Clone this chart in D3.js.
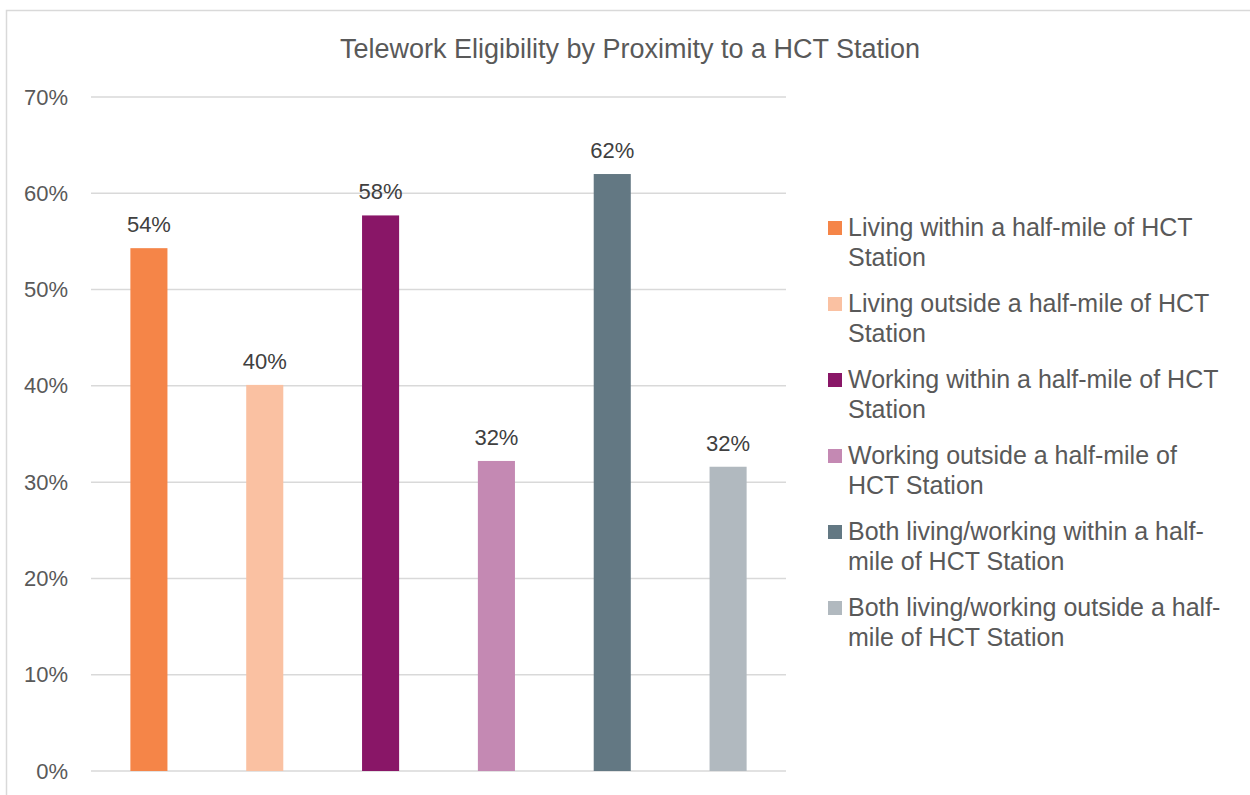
<!DOCTYPE html>
<html>
<head>
<meta charset="utf-8">
<script src="https://cdn.jsdelivr.net/npm/d3@7"></script>
<style>
  html, body { margin: 0; padding: 0; background: #fff; }
  svg { display: block; font-family: "Liberation Sans", Arial, sans-serif; }
</style>
</head>
<body>
<svg id="chart" width="1250" height="795"></svg>
<script>
const title = "Telework Eligibility by Proximity to a HCT Station";
const categories = [
  "Living within a half-mile of HCT Station",
  "Living outside a half-mile of HCT Station",
  "Working within a half-mile of HCT Station",
  "Working outside a half-mile of HCT Station",
  "Both living/working within a half-mile of HCT Station",
  "Both living/working outside a half-mile of HCT Station"
];
const legendLines = [
  ["Living within a half-mile of HCT", "Station"],
  ["Living outside a half-mile of HCT", "Station"],
  ["Working within a half-mile of HCT", "Station"],
  ["Working outside a half-mile of", "HCT Station"],
  ["Both living/working within a half-", "mile of HCT Station"],
  ["Both living/working outside a half-", "mile of HCT Station"]
];
const values = [0.543, 0.401, 0.577, 0.322, 0.620, 0.316];
const valueLabels = ["54%", "40%", "58%", "32%", "62%", "32%"];
const colors = ["#F58548", "#FAC1A2", "#891667", "#C489B3", "#637883", "#B1B9BF"];
const yTicks = [0, 0.1, 0.2, 0.3, 0.4, 0.5, 0.6, 0.7];

const svg = d3.select("#chart");

// chart frame (cropped at right and bottom)
svg.append("rect")
  .attr("x", 6.5).attr("y", 10.5)
  .attr("width", 1300).attr("height", 900)
  .attr("fill", "none").attr("stroke", "#D9D9D9").attr("stroke-width", 1.5);

// title
svg.append("text")
  .attr("x", 630).attr("y", 58)
  .attr("text-anchor", "middle")
  .attr("fill", "#595959")
  .style("font-size", "27px")
  .text(title);

const plot = { left: 91, right: 786, top: 97, bottom: 771 };

const x = d3.scaleBand()
  .domain(categories)
  .range([plot.left, plot.right])
  .paddingInner(0.68).paddingOuter(0.34);

const y = d3.scaleLinear()
  .domain([0, 0.7])
  .range([plot.bottom, plot.top]);

// gridlines
svg.append("g")
  .selectAll("line")
  .data(yTicks)
  .join("line")
  .attr("x1", plot.left).attr("x2", plot.right)
  .attr("y1", d => y(d)).attr("y2", d => y(d))
  .attr("stroke", "#D9D9D9").attr("stroke-width", 1.5);

// y axis labels
const yAxis = d3.axisLeft(y)
  .tickValues(yTicks)
  .tickFormat(d3.format(".0%"))
  .tickSize(0).tickPadding(0);
const yg = svg.append("g")
  .attr("transform", `translate(${plot.left - 23},0)`)
  .call(yAxis);
yg.select(".domain").remove();
yg.selectAll("text")
  .attr("fill", "#595959")
  .style("font-size", "22px")
  .style("font-family", "'Liberation Sans', Arial, sans-serif");

// bars
svg.append("g")
  .selectAll("rect")
  .data(categories)
  .join("rect")
  .attr("x", d => x(d))
  .attr("width", x.bandwidth())
  .attr("y", (d, i) => y(values[i]))
  .attr("height", (d, i) => y(0) - y(values[i]))
  .attr("fill", (d, i) => colors[i]);

// value labels
svg.append("g")
  .selectAll("text")
  .data(categories)
  .join("text")
  .attr("x", d => x(d) + x.bandwidth() / 2)
  .attr("y", (d, i) => y(values[i]) - 16)
  .attr("text-anchor", "middle")
  .attr("fill", "#404040")
  .style("font-size", "22px")
  .text((d, i) => valueLabels[i]);

// legend
const legend = svg.append("g");
const lg = legend.selectAll("g")
  .data(legendLines)
  .join("g")
  .attr("transform", (d, i) => `translate(828, ${228 + i * 76})`);
lg.append("rect")
  .attr("x", 0).attr("y", -7)
  .attr("width", 14).attr("height", 14)
  .attr("fill", (d, i) => colors[i]);
lg.append("text")
  .attr("x", 20).attr("y", 0)
  .attr("fill", "#595959")
  .style("font-size", "25px")
  .selectAll("tspan")
  .data(d => d)
  .join("tspan")
  .attr("x", 20)
  .attr("dy", (d, j) => j === 0 ? "0.33em" : "30px")
  .text(d => d);
</script>
</body>
</html>
